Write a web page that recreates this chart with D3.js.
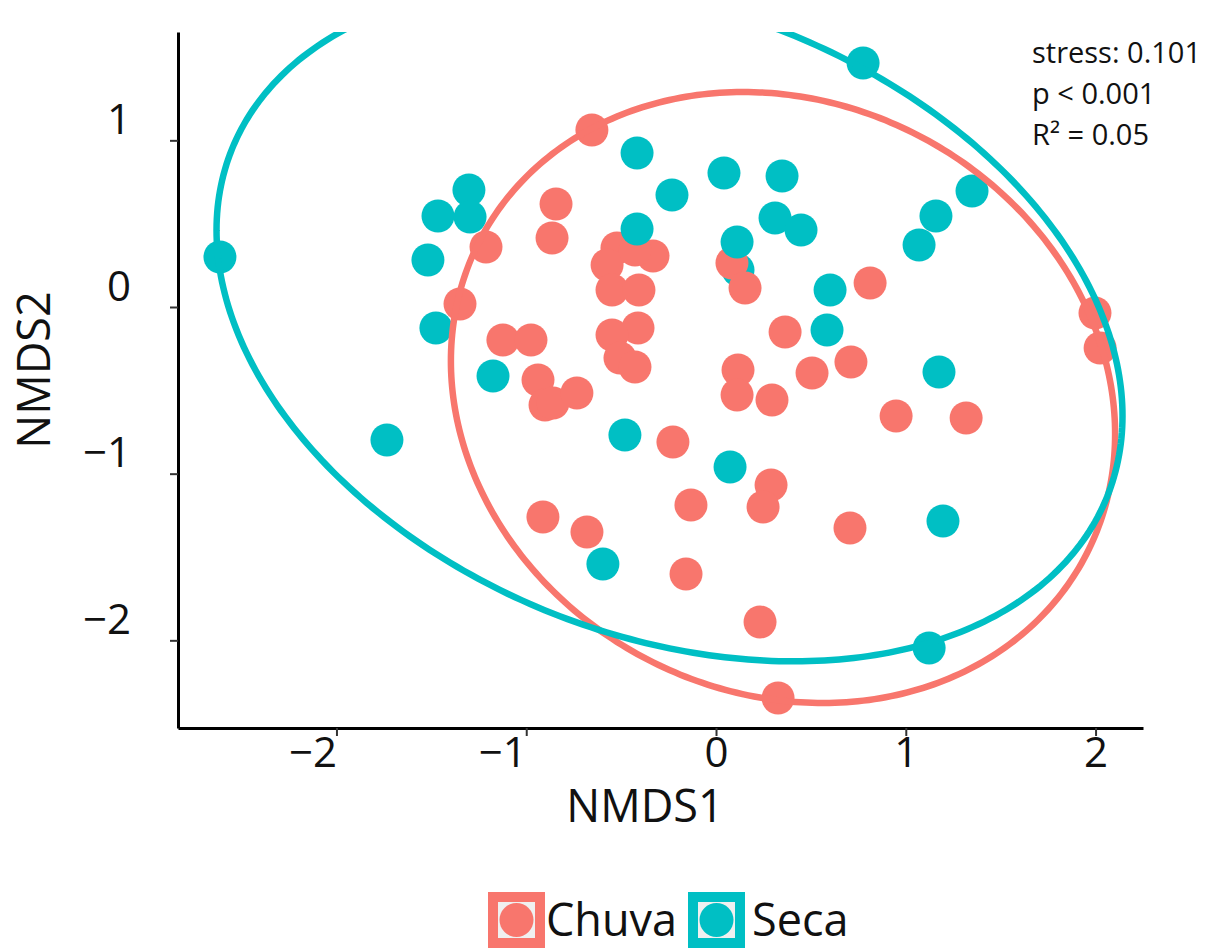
<!DOCTYPE html>
<html>
<head>
<meta charset="utf-8">
<script src="https://cdn.jsdelivr.net/npm/d3@7"></script>
<style>
  html, body { margin: 0; padding: 0; background: #fff; }
  svg { display: block; font-family: "Open Sans", "DejaVu Sans", sans-serif; }
</style>
</head>
<body>
<svg id="chart" width="1212" height="952"></svg>
<script>
// NMDS site scores, one entry per sample
const season = [
  "Seca",
  "Chuva","Chuva","Chuva","Chuva","Chuva","Chuva","Chuva","Chuva","Chuva","Chuva",
  "Chuva","Chuva","Chuva","Chuva","Chuva","Chuva","Chuva","Chuva","Chuva","Chuva",
  "Chuva","Chuva","Chuva","Chuva","Chuva","Chuva","Chuva","Chuva","Chuva","Chuva",
  "Chuva","Chuva","Chuva","Chuva","Chuva","Chuva","Chuva","Chuva","Chuva","Chuva",
  "Chuva","Chuva","Chuva","Chuva",
  "Seca","Seca","Seca","Seca","Seca","Seca","Seca","Seca","Seca","Seca",
  "Seca","Seca","Seca","Seca","Seca","Seca","Seca","Seca","Seca","Seca",
  "Seca","Seca","Seca","Seca","Seca","Seca","Seca","Seca"
];
const nmds1 = [
  0.116,
  -0.654, -1.212, -0.843, -0.864, -1.349, -1.123, -0.975, -0.938, -0.901, -0.859,
  -0.733, -0.912, -0.680, -0.522, -0.574, -0.332, -0.427, -0.548, -0.406, -0.411,
  -0.548, -0.506, -0.427, -0.227, -0.132, -0.158, 0.084, 0.153, 0.364, 0.116,
  0.111, 0.295, 0.506, 0.711, 0.812, 0.949, 1.318, 0.290, 0.248, 0.706,
  0.232, 0.327, 1.997, 2.024,
  -2.614, -1.302, -1.465, -1.296, -1.518, -1.476, -1.175, -1.734, -0.416, -0.232,
  0.042, 0.348, -0.416, 0.311, 0.448, 0.111, 1.349, 1.159, 1.070, 0.775,
  0.601, 0.585, 1.175, -0.480, 0.074, 1.196, 1.123, -0.596
];
const nmds2 = [
  0.222,
  1.062, 0.360, 0.618, 0.414, 0.018, -0.198, -0.198, -0.438, -0.588, -0.576,
  -0.516, -1.260, -1.350, 0.354, 0.252, 0.306, 0.342, 0.102, 0.102, -0.126,
  -0.168, -0.306, -0.360, -0.810, -1.188, -1.602, 0.264, 0.114, -0.150, -0.378,
  -0.528, -0.558, -0.396, -0.330, 0.144, -0.654, -0.666, -1.068, -1.200, -1.326,
  -1.890, -2.346, -0.036, -0.246,
  0.300, 0.702, 0.546, 0.540, 0.282, -0.126, -0.414, -0.798, 0.924, 0.672,
  0.804, 0.786, 0.468, 0.534, 0.462, 0.390, 0.696, 0.546, 0.372, 1.464,
  0.102, -0.138, -0.390, -0.768, -0.960, -1.284, -2.046, -1.542
];

// Groups and their confidence ellipses (centre, semi-extents, tilt phase)
const groups = ["Chuva", "Seca"];
const groupColours = ["#F8766D", "#00BFC4"];
const ellipseCentre = [[0.353, -0.543], [-0.245, -0.096]];
const ellipseRadii = [[1.750, 1.833], [2.387, 2.030]];
const ellipseTilt = [0.12, 0.278];

const xTicks = [-2, -1, 0, 1, 2];
const yTicks = [-2, -1, 0, 1];
const statLines = ["stress: 0.101", "p < 0.001", "R\u00B2 = 0.05"];

const svg = d3.select("#chart");
const panel = { left: 178, right: 1143, top: 32, bottom: 728 };

const x = d3.scaleLinear().domain([-2.835, 2.25]).range([panel.left, panel.right]);
const y = d3.scaleLinear().domain([-2.526, 1.65]).range([panel.bottom, panel.top]);
const colour = d3.scaleOrdinal().domain(groups).range(groupColours);

svg.append("defs").append("clipPath").attr("id", "panel-clip")
  .append("rect")
  .attr("x", panel.left).attr("y", panel.top)
  .attr("width", panel.right - panel.left)
  .attr("height", panel.bottom - panel.top);

const plot = svg.append("g").attr("clip-path", "url(#panel-clip)");

// sample points
const samples = season.map((g, i) => ({ g, x: nmds1[i], y: nmds2[i] }));
plot.append("g").selectAll("circle").data(samples).join("circle")
  .attr("cx", d => x(d.x))
  .attr("cy", d => y(d.y))
  .attr("r", 16.5)
  .attr("fill", d => colour(d.g));

// ellipse outlines
const angles = d3.range(0, 2 * Math.PI, Math.PI / 180);
const line = d3.line().x(d => x(d[0])).y(d => y(d[1])).curve(d3.curveLinearClosed);
groups.forEach((g, k) => {
  const [cx, cy] = ellipseCentre[k];
  const [rx, ry] = ellipseRadii[k];
  const phi = ellipseTilt[k];
  const pts = angles.map(t => [cx + rx * Math.cos(t), cy - ry * Math.sin(t + phi)]);
  plot.append("path")
    .attr("d", line(pts))
    .attr("fill", "none")
    .attr("stroke", colour(g))
    .attr("stroke-width", 6.5);
});

// axes
const fmt = d3.format("d");
const xAxis = svg.append("g")
  .attr("transform", `translate(0,${panel.bottom})`)
  .call(d3.axisBottom(x).tickValues(xTicks).tickFormat(fmt).tickSize(8).tickSizeOuter(0));
const yAxis = svg.append("g")
  .attr("transform", `translate(${panel.left},0)`)
  .call(d3.axisLeft(y).tickValues(yTicks).tickFormat(fmt).tickSize(8).tickSizeOuter(0));

[xAxis, yAxis].forEach(a => {
  a.select(".domain").attr("stroke", "#000").attr("stroke-width", 3);
  a.selectAll(".tick line").attr("stroke", "#333").attr("stroke-width", 2);
  a.selectAll(".tick text")
    .attr("fill", "#111")
    .style("font-size", "42px")
    .style("font-family", "'Open Sans', sans-serif");
});
xAxis.selectAll(".tick text")
  .attr("y", 9)
  .attr("text-anchor", d => d < 0 ? "end" : "middle");
yAxis.selectAll(".tick text")
  .attr("x", -47)
  .attr("y", -22)
  .attr("dy", "0.36em");

// axis titles
svg.append("text")
  .attr("x", 645).attr("y", 822)
  .attr("text-anchor", "middle")
  .style("font-size", "45px").style("font-weight", 500).attr("fill", "#111")
  .text("NMDS1");
svg.append("text")
  .attr("transform", "translate(50,370) rotate(-90)")
  .attr("text-anchor", "middle")
  .style("font-size", "45px").style("font-weight", 500).attr("fill", "#111")
  .text("NMDS2");

// fit statistics
svg.append("g").selectAll("text").data(statLines).join("text")
  .attr("x", 1032)
  .attr("y", (d, i) => 63 + i * 41)
  .style("font-size", "29px")
  .attr("fill", "#111")
  .text(d => d);

// legend
const legendX = [488, 688];
const legend = svg.append("g");
groups.forEach((g, k) => {
  const lx = legendX[k];
  legend.append("rect")
    .attr("x", lx + 5).attr("y", 897)
    .attr("width", 47).attr("height", 46)
    .attr("fill", "#F0F0F0")
    .attr("stroke", colour(g))
    .attr("stroke-width", 10);
  legend.append("circle")
    .attr("cx", lx + 28.5).attr("cy", 920)
    .attr("r", 17)
    .attr("fill", colour(g));
  legend.append("text")
    .attr("x", lx + (k === 0 ? 58 : 64)).attr("y", 936)
    .style("font-size", "45px")
    .attr("fill", "#111")
    .text(g);
});
</script>
</body>
</html>
